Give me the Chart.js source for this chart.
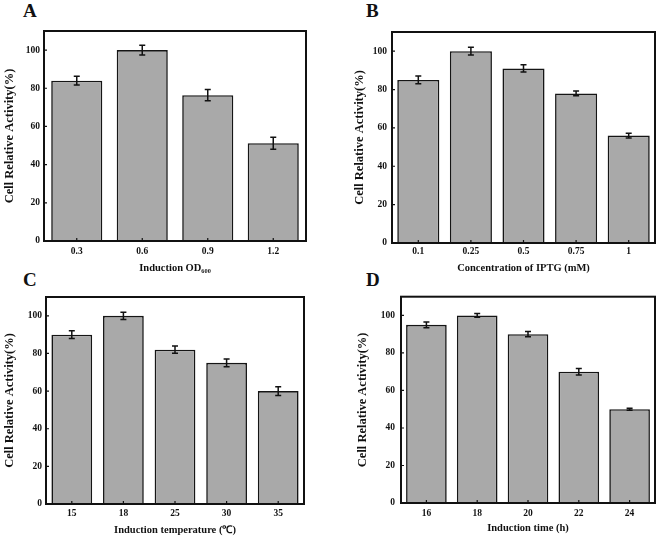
<!DOCTYPE html>
<html>
<head>
<meta charset="utf-8">
<script src="https://cdn.jsdelivr.net/npm/chart.js@4.4.0/dist/chart.umd.min.js"></script>
<style>
  html, body { margin:0; padding:0; background:#fff; }
  body { width:661px; height:537px; position:relative; overflow:hidden; }
  .panel { position:absolute; }
  .letter { position:absolute; font-family:"Liberation Serif", serif; font-weight:bold; font-size:19px; line-height:20px; color:#111; }
</style>
</head>
<body>
<div class="letter" style="left:23px;top:1px;">A</div>
<div class="letter" style="left:366px;top:1px;">B</div>
<div class="letter" style="left:23px;top:270px;">C</div>
<div class="letter" style="left:366px;top:270px;">D</div>

<div class="panel" style="left:0px;top:20px;"><canvas id="cA" width="310" height="255"></canvas></div>
<div class="panel" style="left:352px;top:20px;"><canvas id="cB" width="306" height="255"></canvas></div>
<div class="panel" style="left:0px;top:285px;"><canvas id="cC" width="307" height="252"></canvas></div>
<div class="panel" style="left:352px;top:285px;"><canvas id="cD" width="306" height="252"></canvas></div>

<script>
// ---- data ----
const yTicks = [0, 20, 40, 60, 80, 100];
const yTitle = 'Cell Relative Activity(%)';

const catA = ['0.3', '0.6', '0.9', '1.2'];
const valA = [84, 100, 76.4, 51.2];
const errA = [2.3, 2.6, 3.0, 3.2];
const titleA = 'Induction OD\u2086\u2080\u2080';

const catB = ['0.1', '0.25', '0.5', '0.75', '1'];
const valB = [85, 100, 91, 78, 56];
const errB = [2.0, 2.0, 1.9, 1.2, 1.2];
const titleB = 'Concentration of IPTG (mM)';

const catC = ['15', '18', '25', '30', '35'];
const valC = [90, 100, 82, 75, 60];
const errC = [2.1, 1.9, 1.9, 2.1, 2.3];
const titleC = 'Induction temperature (\u2103)';

const catD = ['16', '18', '20', '22', '24'];
const valD = [95, 100, 90, 70, 50];
const errD = [1.5, 1.0, 1.4, 1.7, 0.5];
const titleD = 'Induction time (h)';

// ---- plugins ----
const frameAndErrors = {
  id: 'frameAndErrors',
  afterDatasetsDraw(chart, args, opts) {
    const ctx = chart.ctx;
    const ys = chart.scales.y, xs = chart.scales.x;
    const meta = chart.getDatasetMeta(0);
    const vals = chart.data.datasets[0].data;
    const errs = opts.errors || [];
    ctx.save();
    ctx.strokeStyle = '#111';
    ctx.lineWidth = 1.5;
    meta.data.forEach((el, i) => {
      const v = vals[i], e = errs[i] || 0;
      const yT = ys.getPixelForValue(v + e), yB = ys.getPixelForValue(v - e);
      const x = el.x, cap = 3;
      ctx.beginPath();
      ctx.moveTo(x, yT); ctx.lineTo(x, yB);
      ctx.moveTo(x - cap, yT); ctx.lineTo(x + cap, yT);
      ctx.moveTo(x - cap, yB); ctx.lineTo(x + cap, yB);
      ctx.stroke();
    });
    // inward ticks
    const a = chart.chartArea;
    ctx.lineWidth = 1.2;
    ctx.beginPath();
    xs.ticks.forEach((t, i) => {
      const x = xs.getPixelForTick(i);
      ctx.moveTo(x, a.bottom); ctx.lineTo(x, a.bottom - 3);
    });
    ys.ticks.forEach((t) => {
      const y = ys.getPixelForValue(t.value);
      ctx.moveTo(a.left, y); ctx.lineTo(a.left + 3, y);
    });
    ctx.stroke();
    // frame
    ctx.lineWidth = 2;
    ctx.strokeRect(a.left, a.top, a.right - a.left, a.bottom - a.top);
    ctx.restore();
  }
};

const FONT = 'Liberation Serif, Times New Roman, serif';

function makeChart(id, cats, vals, errs, xTitle, cfg) {
  return new Chart(document.getElementById(id), {
    type: 'bar',
    data: {
      labels: cats,
      datasets: [{
        data: vals,
        backgroundColor: '#a9a9a9',
        borderColor: '#151515',
        borderWidth: 1.6,
        categoryPercentage: 1.0,
        barPercentage: cfg.barPct
      }]
    },
    options: {
      responsive: false,
      animation: false,
      devicePixelRatio: 1,
      layout: { padding: { top: cfg.padTop, right: cfg.padRight, left: 0, bottom: 0 } },
      plugins: {
        legend: { display: false },
        tooltip: { enabled: false },
        frameAndErrors: { errors: errs }
      },
      scales: {
        x: {
          grid: { display: false, drawTicks: false },
          border: { display: false },
          ticks: { color: '#111', font: { family: FONT, weight: 'bold', size: 9.5 }, padding: cfg.xTickPad },
          title: { display: true, text: xTitle, color: '#111',
                   font: { family: FONT, weight: 'bold', size: 10.5 },
                   padding: { top: 0, bottom: cfg.xTitlePad } },
          afterFit: s => { s.height = cfg.xH; }
        },
        y: {
          min: 0, max: 110,
          grid: { display: false, drawTicks: false },
          border: { display: false },
          afterBuildTicks: s => { s.ticks = yTicks.map(v => ({ value: v })); },
          ticks: { color: '#111', font: { family: FONT, weight: 'bold', size: 9.5 }, padding: cfg.yTickPad },
          title: { display: true, text: yTitle, color: '#111',
                   font: { family: FONT, weight: 'bold', size: 12.5 },
                   padding: { top: cfg.yTitlePad, bottom: 0 } },
          afterFit: s => { s.width = cfg.yW; }
        }
      }
    },
    plugins: [frameAndErrors]
  });
}

makeChart('cA', catA, valA, errA, titleA,
  { barPct: 0.78, padTop: 11, padRight: 4, xH: 34, yW: 44, xTickPad: 4.4, xTitlePad: 0.7, yTickPad: 4, yTitlePad: 2.5 });
makeChart('cB', catB, valB, errB, titleB,
  { barPct: 0.80, padTop: 12, padRight: 3, xH: 32, yW: 40, xTickPad: 3, xTitlePad: 0.7, yTickPad: 5, yTitlePad: 0 });
makeChart('cC', catC, valC, errC, titleC,
  { barPct: 0.79, padTop: 12, padRight: 3, xH: 33, yW: 46, xTickPad: 3.4, xTitlePad: 0.7, yTickPad: 4, yTitlePad: 2.5 });
makeChart('cD', catD, valD, errD, titleD,
  { barPct: 0.80, padTop: 11, padRight: 3, xH: 34, yW: 49, xTickPad: 4.4, xTitlePad: 2.7, yTickPad: 6, yTitlePad: 3.5 });
</script>
</body>
</html>
